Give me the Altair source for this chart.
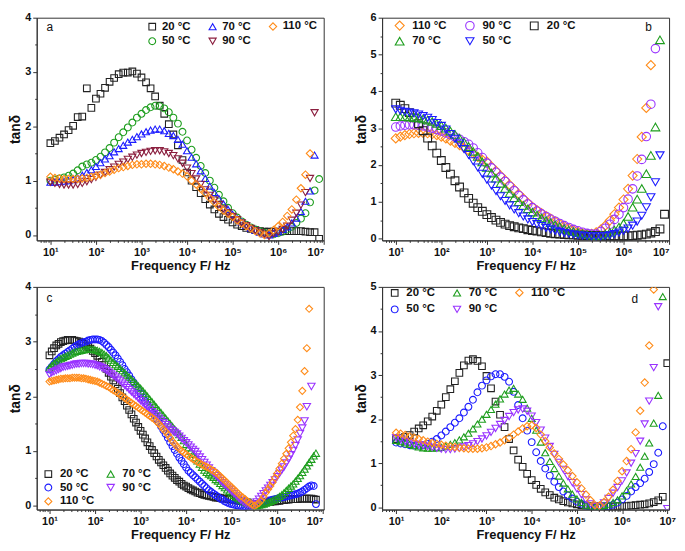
import altair as alt
import pandas as pd

FONT = "Liberation Sans"
W, H = 290, 225

# ---- log10(frequency / Hz) grids -------------------------------------------
LOGF = [1.0, 1.1, 1.2, 1.3, 1.4, 1.5, 1.6, 1.7, 1.8, 1.9,
        2.0, 2.1, 2.2, 2.3, 2.4, 2.5, 2.6, 2.7, 2.8, 2.9,
        3.0, 3.1, 3.2, 3.3, 3.4, 3.5, 3.6, 3.7, 3.8, 3.9,
        4.0, 4.1, 4.2, 4.3, 4.4, 4.5, 4.6, 4.7, 4.8, 4.9,
        5.0, 5.1, 5.2, 5.3, 5.4, 5.5, 5.6, 5.7, 5.8, 5.9,
        6.0, 6.1, 6.2, 6.3, 6.4, 6.5, 6.6, 6.7, 6.8, 6.9]
LOGF_D = LOGF + [7.0]
LOGF_C = [1.00, 1.05, 1.10, 1.15, 1.20, 1.25, 1.30, 1.35, 1.40, 1.45,
          1.50, 1.55, 1.60, 1.65, 1.70, 1.75, 1.80, 1.85, 1.90, 1.95,
          2.00, 2.05, 2.10, 2.15, 2.20, 2.25, 2.30, 2.35, 2.40, 2.45,
          2.50, 2.55, 2.60, 2.65, 2.70, 2.75, 2.80, 2.85, 2.90, 2.95,
          3.00, 3.05, 3.10, 3.15, 3.20, 3.25, 3.30, 3.35, 3.40, 3.45,
          3.50, 3.55, 3.60, 3.65, 3.70, 3.75, 3.80, 3.85, 3.90, 3.95,
          4.00, 4.05, 4.10, 4.15, 4.20, 4.25, 4.30, 4.35, 4.40, 4.45,
          4.50, 4.55, 4.60, 4.65, 4.70, 4.75, 4.80, 4.85, 4.90, 4.95,
          5.00, 5.05, 5.10, 5.15, 5.20, 5.25, 5.30, 5.35, 5.40, 5.45,
          5.50, 5.55, 5.60, 5.65, 5.70, 5.75, 5.80, 5.85, 5.90, 5.95,
          6.00, 6.05, 6.10, 6.15, 6.20, 6.25, 6.30, 6.35, 6.40, 6.45,
          6.50, 6.55, 6.60, 6.65, 6.70, 6.75, 6.80, 6.85]

# ---- panel a ----------------------------------------------------------------
A_20 = [1.69, 1.73, 1.79, 1.85, 1.93, 2.01, 2.17, 2.18, 2.70, 2.34,
        2.51, 2.60, 2.71, 2.82, 2.89, 2.96, 2.99, 2.99, 3.01, 2.97,
        2.90, 2.81, 2.70, 2.55, 2.38, 2.23, 2.04, 1.85, 1.65, 1.38,
        1.15, 1.00, 0.88, 0.77, 0.66, 0.56, 0.47, 0.39, 0.33, 0.28,
        0.23, 0.19, 0.16, 0.13, 0.11, 0.09, 0.07, 0.06, 0.06, 0.06,
        0.06, 0.07, 0.07, 0.07, 0.07, 0.07, 0.06, 0.05, 0.05, -0.07]
A_50 = [1.00, 1.02, 1.04, 1.06, 1.09, 1.13, 1.19, 1.26, 1.30, 1.33,
        1.38, 1.44, 1.52, 1.60, 1.70, 1.80, 1.89, 1.98, 2.07, 2.16,
        2.23, 2.30, 2.35, 2.38, 2.37, 2.33, 2.26, 2.16, 2.05, 1.90,
        1.74, 1.57, 1.42, 1.27, 1.14, 1.00, 0.87, 0.74, 0.62, 0.50,
        0.40, 0.32, 0.25, 0.19, 0.14, 0.10, 0.07, 0.04, 0.02, 0.01,
        0.03, 0.06, 0.10, 0.15, 0.22, 0.30, 0.40, 0.60, 0.82, 1.03]
A_70 = [0.97, 0.97, 0.98, 0.99, 1.00, 1.02, 1.05, 1.10, 1.15, 1.20,
        1.26, 1.33, 1.40, 1.46, 1.53, 1.59, 1.65, 1.71, 1.76, 1.81,
        1.86, 1.90, 1.93, 1.95, 1.95, 1.92, 1.87, 1.83, 1.76, 1.67,
        1.55, 1.43, 1.31, 1.18, 1.04, 0.90, 0.78, 0.67, 0.57, 0.47,
        0.38, 0.30, 0.24, 0.18, 0.13, 0.09, 0.05, 0.02, 0.00, 0.03,
        0.06, 0.10, 0.15, 0.22, 0.31, 0.43, 0.62, 0.81, 1.47, None]
A_90 = [0.97, 0.95, 0.93, 0.92, 0.92, 0.92, 0.93, 0.95, 0.98, 1.02,
        1.06, 1.10, 1.15, 1.20, 1.25, 1.30, 1.34, 1.39, 1.43, 1.47,
        1.50, 1.52, 1.54, 1.55, 1.55, 1.53, 1.50, 1.46, 1.40, 1.32,
        1.23, 1.13, 1.03, 0.93, 0.83, 0.73, 0.64, 0.56, 0.48, 0.41,
        0.34, 0.28, 0.22, 0.17, 0.12, 0.08, 0.04, 0.01, -0.03, 0.02,
        0.06, 0.10, 0.16, 0.27, 0.40, 0.55, 0.78, 1.04, 2.25, None]
A_110 = [1.07, 1.05, 1.04, 1.03, 1.03, 1.03, 1.03, 1.04, 1.05, 1.07,
         1.09, 1.11, 1.14, 1.17, 1.20, 1.23, 1.25, 1.27, 1.29, 1.30,
         1.30, 1.31, 1.31, 1.30, 1.29, 1.27, 1.24, 1.21, 1.17, 1.13,
         1.08, 1.00, 0.93, 0.85, 0.77, 0.68, 0.60, 0.52, 0.45, 0.39,
         0.33, 0.27, 0.21, 0.16, 0.12, 0.07, 0.03, 0.00, 0.03, 0.09,
         0.16, 0.24, 0.35, 0.47, 0.65, 0.86, 1.11, 1.50, None, None]

# ---- panel b ----------------------------------------------------------------
B_110 = [2.72, 2.77, 2.81, 2.84, 2.86, 2.87, 2.87, 2.86, 2.84, 2.81,
         2.77, 2.72, 2.66, 2.60, 2.54, 2.47, 2.39, 2.31, 2.22, 2.14,
         2.09, 1.96, 1.84, 1.71, 1.59, 1.46, 1.34, 1.21, 1.09, 0.97,
         0.86, 0.77, 0.69, 0.61, 0.54, 0.47, 0.40, 0.34, 0.28, 0.23,
         0.18, 0.14, 0.12, 0.13, 0.17, 0.24, 0.35, 0.49, 0.66, 0.84,
         1.06, 1.35, 1.71, 2.16, 2.76, 3.55, 4.71, None, None, None]
B_90 = [3.03, 3.06, 3.08, 3.09, 3.09, 3.08, 3.06, 3.03, 3.00, 2.96,
        2.92, 2.87, 2.82, 2.76, 2.70, 2.63, 2.56, 2.46, 2.33, 2.20,
        2.05, 1.92, 1.80, 1.67, 1.55, 1.42, 1.30, 1.17, 1.05, 0.94,
        0.84, 0.75, 0.67, 0.60, 0.53, 0.47, 0.41, 0.35, 0.30, 0.25,
        0.21, 0.17, 0.14, 0.12, 0.12, 0.19, 0.28, 0.39, 0.52, 0.66,
        0.84, 1.07, 1.35, 1.70, 2.15, 2.77, 3.65, 5.16, None, None]
B_20 = [3.68, 3.62, 3.53, 3.42, 3.28, 3.12, 2.93, 2.73, 2.52, 2.32,
        2.12, 1.93, 1.75, 1.57, 1.40, 1.24, 1.09, 0.96, 0.84, 0.74,
        0.65, 0.57, 0.50, 0.44, 0.39, 0.35, 0.32, 0.29, 0.27, 0.24,
        0.22, 0.20, 0.18, 0.16, 0.14, 0.13, 0.12, 0.11, 0.10, 0.10,
        0.09, 0.09, 0.08, 0.08, 0.08, 0.07, 0.07, 0.07, 0.07, 0.07,
        0.07, 0.07, 0.08, 0.09, 0.10, 0.12, 0.15, 0.19, 0.26, 0.66]
B_70 = [3.31, 3.31, 3.31, 3.30, 3.29, 3.28, 3.25, 3.22, 3.18, 3.13,
        3.07, 3.00, 2.92, 2.83, 2.73, 2.62, 2.50, 2.37, 2.23, 2.08,
        1.93, 1.78, 1.64, 1.50, 1.36, 1.23, 1.11, 1.00, 0.90, 0.81,
        0.72, 0.64, 0.56, 0.49, 0.43, 0.37, 0.32, 0.27, 0.23, 0.19,
        0.16, 0.13, 0.11, 0.09, 0.08, 0.09, 0.12, 0.17, 0.23, 0.31,
        0.41, 0.60, 0.85, 1.07, 1.36, 1.76, 2.26, 3.03, 5.40, None]
B_50 = [3.51, 3.47, 3.44, 3.42, 3.40, 3.37, 3.33, 3.28, 3.22, 3.14,
        3.06, 2.96, 2.84, 2.71, 2.58, 2.43, 2.27, 2.10, 1.93, 1.76,
        1.60, 1.44, 1.29, 1.15, 1.02, 0.90, 0.79, 0.69, 0.60, 0.52,
        0.45, 0.39, 0.34, 0.29, 0.25, 0.21, 0.18, 0.15, 0.13, 0.11,
        0.09, 0.08, 0.07, 0.06, 0.06, 0.06, 0.07, 0.09, 0.12, 0.16,
        0.21, 0.27, 0.35, 0.46, 0.62, 0.85, 1.12, 1.53, 2.26, None]

# ---- panel c ----------------------------------------------------------------
C_20 = [2.75, 2.82, 2.88, 2.93, 2.96, 2.99, 3.01, 3.02, 3.03, 3.03,
        3.03, 3.02, 3.01, 3.00, 2.98, 2.96, 2.93, 2.90, 2.87, 2.83,
        2.79, 2.74, 2.69, 2.63, 2.57, 2.50, 2.43, 2.36, 2.29, 2.22,
        2.14, 2.06, 1.98, 1.91, 1.83, 1.75, 1.67, 1.59, 1.52, 1.44,
        1.37, 1.30, 1.23, 1.16, 1.09, 1.02, 0.96, 0.90, 0.84, 0.79,
        0.74, 0.69, 0.64, 0.59, 0.55, 0.51, 0.47, 0.44, 0.40, 0.37,
        0.35, 0.32, 0.30, 0.28, 0.26, 0.24, 0.23, 0.21, 0.20, 0.19,
        0.18, 0.17, 0.16, 0.15, 0.15, 0.14, 0.13, 0.13, 0.12, 0.12,
        0.11, 0.11, 0.10, 0.09, 0.09, 0.08, 0.07, 0.06, 0.04, 0.03,
        0.02, 0.02, 0.03, 0.04, 0.05, 0.06, 0.07, 0.07, 0.08, 0.08,
        0.09, 0.09, 0.10, 0.10, 0.11, 0.11, 0.12, 0.12, 0.12, 0.12,
        0.13, 0.13, 0.13, 0.13, 0.13, 0.13, 0.12, 0.11]
C_50 = [2.49, 2.54, 2.59, 2.64, 2.68, 2.72, 2.75, 2.78, 2.81, 2.84,
        2.87, 2.90, 2.93, 2.95, 2.97, 2.99, 3.00, 3.02, 3.03, 3.04,
        3.04, 3.04, 3.03, 3.01, 2.98, 2.94, 2.90, 2.85, 2.80, 2.75,
        2.69, 2.63, 2.57, 2.50, 2.44, 2.38, 2.31, 2.25, 2.18, 2.11,
        2.05, 1.98, 1.92, 1.85, 1.79, 1.72, 1.66, 1.59, 1.52, 1.45,
        1.38, 1.31, 1.24, 1.16, 1.09, 1.02, 0.95, 0.88, 0.82, 0.76,
        0.70, 0.64, 0.60, 0.56, 0.52, 0.48, 0.44, 0.40, 0.36, 0.32,
        0.28, 0.25, 0.22, 0.19, 0.16, 0.13, 0.11, 0.08, 0.06, 0.04,
        0.03, 0.02, 0.01, 0.00, 0.00, -0.01, -0.01, 0.00, 0.00, 0.01,
        0.02, 0.03, 0.04, 0.05, 0.07, 0.08, 0.09, 0.10, 0.11, 0.12,
        0.13, 0.14, 0.15, 0.16, 0.17, 0.18, 0.19, 0.20, 0.21, 0.22,
        0.24, 0.26, 0.29, 0.32, 0.35, 0.37, 0.36, 0.03]
C_70 = [2.52, 2.56, 2.60, 2.63, 2.66, 2.69, 2.71, 2.73, 2.75, 2.77,
        2.79, 2.81, 2.82, 2.83, 2.84, 2.85, 2.86, 2.86, 2.86, 2.86,
        2.85, 2.84, 2.82, 2.80, 2.77, 2.74, 2.70, 2.66, 2.62, 2.58,
        2.55, 2.51, 2.47, 2.43, 2.39, 2.35, 2.31, 2.27, 2.23, 2.19,
        2.15, 2.10, 2.05, 2.00, 1.95, 1.90, 1.85, 1.80, 1.75, 1.70,
        1.65, 1.60, 1.55, 1.50, 1.45, 1.40, 1.35, 1.30, 1.25, 1.19,
        1.12, 1.06, 1.00, 0.94, 0.88, 0.82, 0.76, 0.70, 0.65, 0.61,
        0.58, 0.55, 0.52, 0.48, 0.45, 0.41, 0.37, 0.33, 0.29, 0.26,
        0.22, 0.19, 0.16, 0.13, 0.11, 0.09, 0.07, 0.05, 0.04, 0.02,
        0.01, 0.00, 0.01, 0.02, 0.03, 0.05, 0.06, 0.08, 0.10, 0.12,
        0.14, 0.17, 0.20, 0.24, 0.28, 0.32, 0.36, 0.40, 0.45, 0.50,
        0.55, 0.61, 0.67, 0.73, 0.79, 0.85, 0.91, 0.96]
C_90 = [2.40, 2.43, 2.45, 2.47, 2.49, 2.51, 2.53, 2.54, 2.55, 2.56,
        2.57, 2.58, 2.59, 2.59, 2.60, 2.60, 2.60, 2.59, 2.59, 2.58,
        2.57, 2.56, 2.54, 2.52, 2.50, 2.47, 2.44, 2.41, 2.38, 2.35,
        2.31, 2.28, 2.24, 2.20, 2.16, 2.12, 2.08, 2.04, 2.00, 1.96,
        1.92, 1.88, 1.84, 1.80, 1.76, 1.72, 1.68, 1.64, 1.60, 1.56,
        1.52, 1.48, 1.44, 1.40, 1.37, 1.34, 1.31, 1.27, 1.23, 1.19,
        1.15, 1.11, 1.07, 1.03, 0.99, 0.94, 0.89, 0.84, 0.79, 0.74,
        0.69, 0.64, 0.60, 0.55, 0.51, 0.46, 0.42, 0.38, 0.34, 0.30,
        0.26, 0.22, 0.18, 0.14, 0.10, 0.07, 0.04, 0.02, 0.01, 0.00,
        0.03, 0.07, 0.12, 0.17, 0.22, 0.27, 0.32, 0.37, 0.42, 0.47,
        0.53, 0.59, 0.65, 0.71, 0.78, 0.85, 0.93, 1.01, 1.10, 1.20,
        1.32, 1.42, 1.55, 1.81, None, 2.18, None, None]
C_110 = [2.27, 2.28, 2.29, 2.30, 2.31, 2.32, 2.32, 2.33, 2.33, 2.33,
         2.34, 2.34, 2.34, 2.34, 2.33, 2.33, 2.32, 2.31, 2.30, 2.29,
         2.28, 2.27, 2.25, 2.23, 2.21, 2.19, 2.17, 2.14, 2.11, 2.09,
         2.06, 2.03, 2.00, 1.97, 1.94, 1.91, 1.88, 1.85, 1.82, 1.79,
         1.76, 1.73, 1.70, 1.67, 1.64, 1.61, 1.58, 1.54, 1.50, 1.45,
         1.40, 1.35, 1.30, 1.24, 1.18, 1.13, 1.08, 1.04, 1.00, 0.97,
         0.94, 0.91, 0.88, 0.85, 0.83, 0.80, 0.78, 0.75, 0.73, 0.71,
         0.69, 0.66, 0.64, 0.61, 0.58, 0.54, 0.50, 0.46, 0.42, 0.38,
         0.34, 0.30, 0.26, 0.22, 0.18, 0.15, 0.12, 0.08, 0.05, 0.02,
         0.00, 0.02, 0.05, 0.10, 0.16, 0.24, 0.30, 0.36, 0.43, 0.51,
         0.59, 0.68, 0.77, 0.86, 0.95, 1.05, 1.16, 1.28, 1.40, 1.57,
         1.80, 2.10, 2.46, 2.88, 3.60, None, None, None]

# ---- panel d ----------------------------------------------------------------
D_20 = [1.55, 1.57, 1.60, 1.64, 1.72, 1.79, 1.86, 1.95, 2.06, 2.19,
        2.33, 2.50, 2.68, 2.86, 3.05, 3.22, 3.33, 3.36, 3.32, 3.20,
        2.98, 2.70, 2.40, 2.10, 1.82, 1.55, 1.29, 1.08, 0.92, 0.76,
        0.62, 0.51, 0.42, 0.34, 0.28, 0.22, 0.18, 0.14, 0.11, 0.09,
        0.07, 0.05, 0.04, 0.03, 0.02, 0.02, 0.02, 0.02, 0.02, 0.03,
        0.03, 0.03, 0.04, 0.05, 0.06, 0.07, 0.09, 0.12, 0.16, 0.24,
        3.27]
D_50 = [1.47, 1.45, 1.43, 1.41, 1.40, 1.40, 1.41, 1.44, 1.49, 1.55,
        1.63, 1.72, 1.82, 1.92, 2.02, 2.15, 2.28, 2.44, 2.61, 2.76,
        2.88, 2.97, 3.02, 3.02, 2.96, 2.85, 2.62, 2.32, 2.02, 1.74,
        1.48, 1.25, 1.05, 0.88, 0.72, 0.58, 0.46, 0.36, 0.27, 0.20,
        0.13, 0.08, 0.04, 0.01, 0.00, 0.00, 0.01, 0.03, 0.06, 0.11,
        0.18, 0.26, 0.36, 0.46, 0.55, 0.65, 0.80, 0.98, 1.24, 1.84,
        None]
D_70 = [1.52, 1.49, 1.46, 1.43, 1.40, 1.37, 1.35, 1.34, 1.34, 1.35,
        1.36, 1.39, 1.43, 1.47, 1.53, 1.60, 1.68, 1.78, 1.89, 2.00,
        2.11, 2.22, 2.34, 2.46, 2.57, 2.66, 2.70, 2.57, 2.45, 2.25,
        2.02, 1.75, 1.48, 1.24, 1.04, 0.88, 0.71, 0.55, 0.42, 0.30,
        0.19, 0.11, 0.05, 0.03, 0.01, 0.02, 0.04, 0.07, 0.11, 0.17,
        0.26, 0.38, 0.53, 0.70, 0.91, 1.16, 1.46, 1.91, 2.54, 4.78,
        None]
D_90 = [1.58, 1.54, 1.50, 1.47, 1.44, 1.42, 1.40, 1.38, 1.36, 1.34,
        1.32, 1.31, 1.31, 1.32, 1.34, 1.37, 1.40, 1.44, 1.49, 1.55,
        1.62, 1.70, 1.79, 1.88, 1.97, 2.06, 2.15, 2.21, 2.23, 2.18,
        2.07, 1.92, 1.75, 1.57, 1.38, 1.20, 1.02, 0.86, 0.70, 0.56,
        0.42, 0.29, 0.17, 0.08, 0.02, 0.02, 0.10, 0.20, 0.32, 0.45,
        0.60, 0.78, 1.00, 1.22, 1.50, 1.89, 2.41, 3.17, 4.55, None,
        -0.03]
D_110 = [1.69, 1.67, 1.64, 1.61, 1.58, 1.55, 1.52, 1.49, 1.46, 1.44,
         1.42, 1.40, 1.38, 1.37, 1.35, 1.34, 1.33, 1.33, 1.33, 1.34,
         1.36, 1.39, 1.43, 1.47, 1.52, 1.58, 1.65, 1.72, 1.79, 1.84,
         1.86, 1.80, 1.65, 1.50, 1.36, 1.22, 1.10, 0.97, 0.84, 0.71,
         0.57, 0.43, 0.29, 0.16, 0.05, 0.04, 0.12, 0.24, 0.40, 0.60,
         0.82, 1.05, 1.32, 1.70, 2.19, 2.83, 3.67, 4.94, None, None,
         None]

# ---- styles -----------------------------------------------------------------
BLACK, GREEN, BLUE = "#222222", "#1e9e1e", "#1c1cff"
MAROON, ORANGE, PURPLE = "#8b1f3f", "#ff8c1a", "#9933ff"
SZ = {"square": 45, "circle": 56, "triangle-up": 62, "triangle-down": 62, "diamond": 85}

XMAJOR = [10, 100, 1000, 10000, 100000, 1000000, 10000000]
XMINOR = [m * 10 ** k for k in range(0, 7) for m in range(2, 10) if 5 <= m * 10 ** k <= 1.05e7]
XLABEL = "'10' + ['\u2070','\u00b9','\u00b2','\u00b3','\u2074','\u2075','\u2076','\u2077'][round(log(datum.value) / LN10)]"


def make_table(logf, names, series):
    rows = []
    for name, vals in zip(names, series):
        for L, v in zip(logf, vals):
            if v is not None:
                rows.append({"f": 10 ** L, "v": v, "T": name})
    return pd.DataFrame(rows)


def panel(df, order, style, xdom, ydom, ytop, letter, lxy, leg):
    colors = [style[t][0] for t in order]
    shapes = [style[t][1] for t in order]
    sizes = [SZ[s] for s in shapes]
    xs = alt.Scale(type="log", domain=xdom, nice=False)
    ys = alt.Scale(domain=ydom, nice=False, zero=False)
    legend = alt.Legend(title=None, orient="none", legendX=leg[0], legendY=leg[1],
                        columns=leg[2], columnPadding=leg[3], rowPadding=leg[4],
                        labelOffset=leg[5], symbolStrokeWidth=1.1, padding=0,
                        labelFont=FONT, labelFontSize=11.5, labelFontWeight="bold",
                        labelColor="#111111")
    pts = alt.Chart(df).mark_point(filled=False, strokeWidth=1.1, clip=True, opacity=1).encode(
        x=alt.X("f:Q", scale=xs, axis=alt.Axis(values=XMAJOR, labelExpr=XLABEL,
                                              title="Frequency F/ Hz", orient="bottom")),
        y=alt.Y("v:Q", scale=ys, axis=alt.Axis(values=list(range(ytop + 1)), format="d",
                                              title="tan\u03b4", titleFontSize=14, orient="left")),
        color=alt.Color("T:N", scale=alt.Scale(domain=order, range=colors), legend=legend),
        shape=alt.Shape("T:N", scale=alt.Scale(domain=order, range=shapes), legend=legend),
        size=alt.Size("T:N", scale=alt.Scale(domain=order, range=sizes), legend=legend),
    )
    minor = alt.Chart(df).mark_point(opacity=0, size=1).encode(
        x=alt.X("f:Q", scale=xs, axis=alt.Axis(values=XMINOR, labels=False, tickSize=2,
                                              domain=False, grid=False, title=None, orient="bottom")),
        y=alt.Y("v:Q", scale=ys, axis=alt.Axis(values=[i + 0.5 for i in range(ytop)], labels=False,
                                              tickSize=2, domain=False, grid=False, title=None,
                                              orient="left")),
    )
    lab = alt.Chart(pd.DataFrame({"t": [letter]})).mark_text(
        font=FONT, fontSize=12, align="left", baseline="middle", color="#111111"
    ).encode(x=alt.value(lxy[0]), y=alt.value(lxy[1]), text="t:N")
    return alt.layer(pts, minor, lab).resolve_axis(x="independent", y="independent").properties(
        width=W, height=H)


T20, T50, T70, T90, T110 = "20 \u00b0C", "50 \u00b0C", "70 \u00b0C", "90 \u00b0C", "110 \u00b0C"

sty_a = {T20: (BLACK, "square"), T50: (GREEN, "circle"), T70: (BLUE, "triangle-up"),
         T90: (MAROON, "triangle-down"), T110: (ORANGE, "diamond")}
sty_b = {T110: (ORANGE, "diamond"), T90: (PURPLE, "circle"), T20: (BLACK, "square"),
         T70: (GREEN, "triangle-up"), T50: (BLUE, "triangle-down")}
sty_cd = {T20: (BLACK, "square"), T50: (BLUE, "circle"), T70: (GREEN, "triangle-up"),
          T90: (PURPLE, "triangle-down"), T110: (ORANGE, "diamond")}

df_a = make_table(LOGF, [T20, T50, T70, T90, T110], [A_20, A_50, A_70, A_90, A_110])
df_b = make_table(LOGF, [T110, T90, T20, T70, T50], [B_110, B_90, B_20, B_70, B_50])
df_c = make_table(LOGF_C, [T20, T50, T70, T90, T110], [C_20, C_50, C_70, C_90, C_110])
df_d = make_table(LOGF_D, [T20, T50, T70, T90, T110], [D_20, D_50, D_70, D_90, D_110])

# legend entries fill column by column
pa = panel(df_a, [T20, T50, T70, T90, T110], sty_a, [10 ** 0.7, 10 ** 7.0], [-0.1, 4], 4,
           "a", (10, 9), (111, 3, 3, 15, 2, 4))
pb = panel(df_b, [T110, T70, T90, T50, T20], sty_b, [10 ** 0.7, 10 ** 7.0], [-0.05, 6], 6,
           "b", (266, 9), (12, 2, 3, 16, 2, 7))
pc = panel(df_c, [T20, T50, T110, T70, T90], sty_cd, [10 ** 0.72, 10 ** 7.02], [-0.07, 4], 4,
           "c", (10, 11), (6, 183, 2, 9, 1, 6))
pdd = panel(df_d, [T20, T50, T70, T90, T110], sty_cd, [10 ** 0.69, 10 ** 7.04], [-0.05, 5], 5,
            "d", (252, 12), (7, 0, 3, 15, 4, 6))

RES = dict(color="independent", shape="independent", size="independent")
top = alt.hconcat(pa, pb, spacing=29).resolve_scale(**RES)
bot = alt.hconcat(pc, pdd, spacing=29).resolve_scale(**RES)

chart = alt.vconcat(top, bot, spacing=7).resolve_scale(**RES).properties(
    padding={"left": 0, "top": 0, "right": 0, "bottom": 0}
).configure(font=FONT).configure_view(
    stroke="#333333", strokeWidth=1
).configure_axis(
    labelFont=FONT, labelFontSize=11, labelFontWeight="bold", labelColor="#111111",
    titleFont=FONT, titleFontSize=13, titleFontWeight="bold", titleColor="#111111",
    domainColor="#333333", tickColor="#333333", grid=False, tickSize=4,
    labelPadding=2, titlePadding=2
)

chart.save("out.html", embed_options={"renderer": "svg", "actions": False})
